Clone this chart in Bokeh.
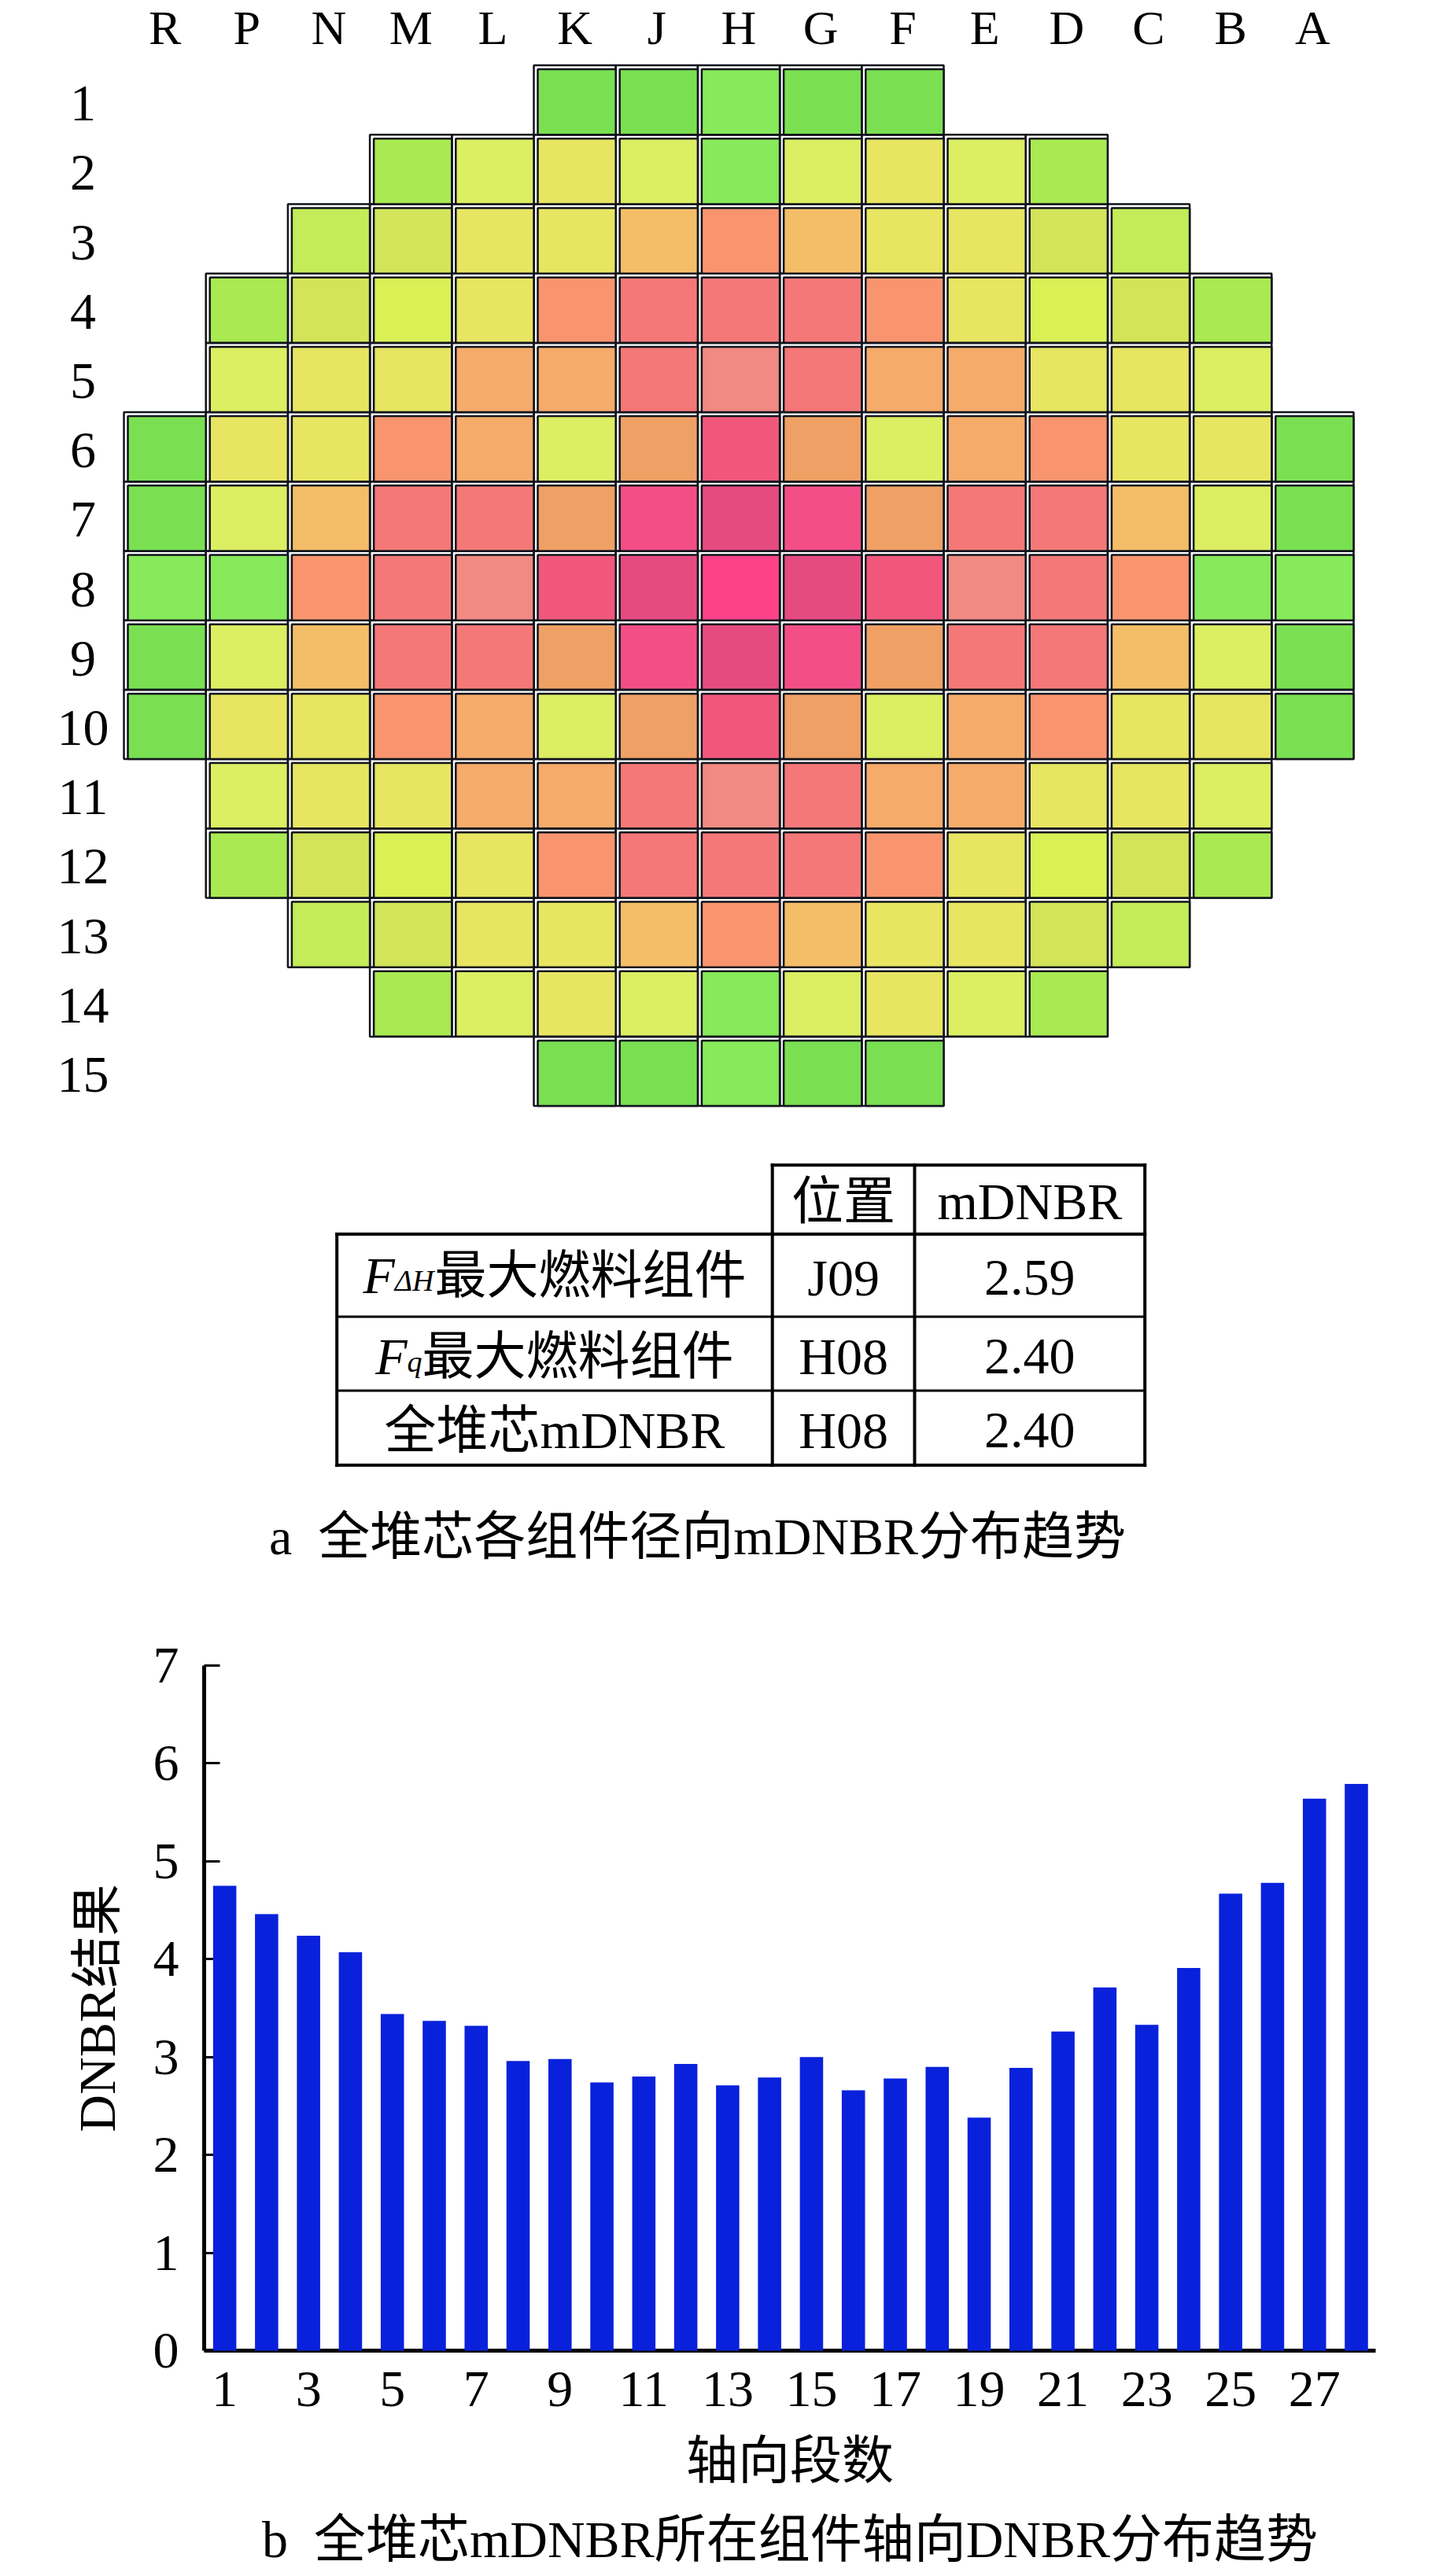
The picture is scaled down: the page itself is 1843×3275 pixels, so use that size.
from bokeh.plotting import figure
from bokeh.models import Range1d, FixedTicker, LinearAxis
from bokeh.embed import file_html
from bokeh.resources import INLINE
from bokeh.core.properties import value

FONT = "Liberation Serif, Noto Sans CJK SC"

# ---------------- data ----------------
col_labels = ["R", "P", "N", "M", "L", "K", "J", "H", "G", "F", "E", "D", "C", "B", "A"]
row_labels = [str(i) for i in range(1, 16)]

# colour class of each fuel assembly (radial mDNBR level), '.' = no assembly
core_map = [
    ".....ggGgg.....",
    "...lpypGpypl...",
    "..voyyasayyov..",
    ".lomysrrrsymol.",
    ".pyyOOrkrOOyyp.",
    "gyysOpdedpOsyyg",
    "gparrdhMhdrrapg",
    "GGsrkeMHMekrsGG",
    "gparrdhMhdrrapg",
    "gyysOpdedpOsyyg",
    ".pyyOOrkrOOyyp.",
    ".lomysrrrsymol.",
    "..voyyasayyov..",
    "...lpypGpypl...",
    ".....ggGgg.....",
]
level_colors = {
    "g": "#7ae052", "G": "#86ea5a", "l": "#a9e951", "v": "#c3ec58",
    "o": "#d3e45a", "m": "#daf156", "p": "#dcee62", "y": "#e8e562",
    "a": "#f4bd67", "O": "#f5ab6a", "d": "#efa065", "s": "#f8956f",
    "k": "#f08a83", "r": "#f57878", "e": "#f1577b", "M": "#e64b80",
    "h": "#f44e87", "H": "#fd4289",
}

table_header = ["位置", "mDNBR"]
table_symbol = ["F", "F", ""]
table_sub = ["ΔH", "q", ""]
table_name = ["最大燃料组件", "最大燃料组件", "全堆芯mDNBR"]
table_pos = ["J09", "H08", "H08"]
table_mdnbr = [2.59, 2.40, 2.40]
caption_a = "a\u2002全堆芯各组件径向mDNBR分布趋势"

segments = list(range(1, 29))
dnbr = [4.75, 4.46, 4.24, 4.07, 3.44, 3.37, 3.32, 2.96, 2.98, 2.74, 2.80, 2.93, 2.71, 2.79,
        3.00, 2.66, 2.78, 2.90, 2.38, 2.89, 3.26, 3.71, 3.33, 3.91, 4.67, 4.78, 5.64, 5.79]
x_ticks = [1, 3, 5, 7, 9, 11, 13, 15, 17, 19, 21, 23, 25, 27]
y_ticks = [0, 1, 2, 3, 4, 5, 6, 7]
x_label = "轴向段数"
y_label = "DNBR结果"
caption_b = "b\u2002全堆芯mDNBR所在组件轴向DNBR分布趋势"

W = 1840
LINE = "#11141c"

# ---------------- figure 1: core map ----------------
GX0, CW, GY0, CH = 157.0, 104.2, 82.6, 88.2
T1, B1 = 0, 1440
p1 = figure(width=W, height=B1 - T1,
            x_range=Range1d((0 - GX0) / CW, (W - GX0) / CW),
            y_range=Range1d((B1 - GY0) / CH, (T1 - GY0) / CH),
            output_backend="svg", toolbar_location=None,
            x_axis_location=None, y_axis_location=None, min_border=0)
p1.grid.visible = False
p1.outline_line_color = None

xs, ys, cs = [], [], []
for r, row in enumerate(core_map):
    for c, ch in enumerate(row):
        if ch != ".":
            xs.append(c + 0.5)
            ys.append(r + 0.5)
            cs.append(level_colors[ch])
p1.rect(x=xs, y=ys, width=1, height=1, fill_color=None, line_color=LINE, line_width=2.5)
p1.rect(x=[v + 0.024 for v in xs], y=[v + 0.028 for v in ys], width=0.952, height=0.943,
        fill_color=cs, line_color=LINE, line_width=2.5)

p1.text(x=[i + 0.5 for i in range(15)], y=[-0.55] * 15, text=col_labels, text_font=value(FONT),
        text_font_size="62px", text_align="center", text_baseline="middle", text_color="black")
p1.text(x=[-0.5] * 15, y=[i + 0.55 for i in range(15)], text=row_labels, text_font=value(FONT),
        text_font_size="66px", text_align="center", text_baseline="middle", text_color="black")

# ---------------- figure 2: table + caption a ----------------
T2, B2 = 1440, 2040
p2 = figure(width=W, height=B2 - T2, x_range=Range1d(0, W), y_range=Range1d(B2, T2),
            output_backend="svg", toolbar_location=None,
            x_axis_location=None, y_axis_location=None, min_border=0)
p2.grid.visible = False
p2.outline_line_color = None

tx = [427.7, 981.2, 1162.0, 1454.7]            # column borders
ty = [1480.7, 1568.4, 1673.6, 1767.6, 1862.3]  # row borders
x0s = [tx[1], tx[0], tx[0], tx[0], tx[1], tx[2], tx[3]]
x1s = [tx[3], tx[3], tx[3], tx[0], tx[1], tx[2], tx[3]]
y0s = [ty[0], ty[1], ty[4], ty[1], ty[0], ty[0], ty[0]]
y1s = [ty[0], ty[1], ty[4], ty[4], ty[4], ty[4], ty[4]]
p2.segment(x0=x0s, y0=y0s, x1=x1s, y1=y1s, line_color="black", line_width=4, line_cap="square")
p2.segment(x0=[tx[0], tx[0]], y0=[ty[2], ty[3]], x1=[tx[3], tx[3]], y1=[ty[2], ty[3]],
           line_color="black", line_width=3)

cx1 = (tx[0] + tx[1]) / 2
cx2 = (tx[1] + tx[2]) / 2
cx3 = (tx[2] + tx[3]) / 2
hy = (ty[0] + ty[1]) / 2 + 2
rows_y = [(ty[i + 1] + ty[i + 2]) / 2 + 3 for i in range(3)]

p2.text(x=[cx2, cx3], y=[hy, hy], text=table_header, text_font=value(FONT),
        text_font_size="66px", text_align="center", text_baseline="middle", text_color="black")
p2.text(x=[cx2] * 3, y=rows_y, text=table_pos, text_font=value(FONT),
        text_font_size="66px", text_align="center", text_baseline="middle", text_color="black")
p2.text(x=[cx3] * 3, y=rows_y, text=["%.2f" % v for v in table_mdnbr], text_font=value(FONT),
        text_font_size="66px", text_align="center", text_baseline="middle", text_color="black")

fs, ss = 66, 38
sub_w = {"ΔH": 1.334 * ss, "q": 0.5 * ss, "": 0}
for i in range(3):
    if table_symbol[i]:
        w_sym = 0.611 * fs
        w_sub = sub_w[table_sub[i]]
        w_name = len(table_name[i]) * fs
        start = cx1 - (w_sym + w_sub + w_name) / 2
        yc = rows_y[i] - (3 if i == 0 else 0)
        p2.text(x=[start], y=[yc], text=[table_symbol[i]], text_font=value(FONT),
                text_font_size="%dpx" % fs, text_font_style="italic", text_align="left",
                text_baseline="middle", text_color="black")
        p2.text(x=[start + w_sym], y=[yc + 0.23 * (fs - ss)], text=[table_sub[i]],
                text_font=value(FONT), text_font_size="%dpx" % ss, text_font_style="italic",
                text_align="left", text_baseline="middle", text_color="black")
        p2.text(x=[start + w_sym + w_sub], y=[yc], text=[table_name[i]], text_font=value(FONT),
                text_font_size="%dpx" % fs, text_align="left",
                text_baseline="middle", text_color="black")
    else:
        p2.text(x=[cx1], y=[rows_y[i]], text=[table_name[i]], text_font=value(FONT),
                text_font_size="%dpx" % fs, text_align="center", text_baseline="middle",
                text_color="black")

p2.text(x=[886], y=[1953], text=[caption_a], text_font=value(FONT), text_font_size="66px",
        text_align="center", text_baseline="middle", text_color="black")

# ---------------- figure 3: axial DNBR bar chart ----------------
T3, B3 = 2040, 3272
p3 = figure(width=W, height=B3 - T3, x_range=Range1d(0.51, 28.46), y_range=Range1d(0, 7),
            output_backend="svg", toolbar_location=None,
            min_border_left=259, min_border_right=W - 1748, min_border_top=77,
            min_border_bottom=B3 - 2988)
p3.grid.visible = False
p3.outline_line_color = None
bars = p3.vbar(x=segments, top=dnbr, width=0.555, fill_color="#0921db", line_color=None)
bars.level = "annotation"

p3.xaxis.ticker = FixedTicker(ticks=x_ticks)
p3.yaxis.ticker = FixedTicker(ticks=y_ticks)
for ax in (p3.xaxis, p3.yaxis):
    ax.axis_line_width = 5
    ax.axis_line_color = "black"
    ax.minor_tick_line_color = None
    ax.major_label_text_font = FONT
    ax.major_label_text_font_size = "66px"
    ax.major_label_text_color = "black"
    ax.axis_label_text_font = FONT
    ax.axis_label_text_font_size = "66px"
    ax.axis_label_text_font_style = "normal"
    ax.axis_label_text_color = "black"
p3.xaxis.major_tick_in = 0
p3.xaxis.major_tick_out = 0
p3.xaxis.major_label_standoff = 27
p3.xaxis.axis_label = x_label
p3.xaxis.axis_label_standoff = 30
p3.yaxis.major_tick_in = 20
p3.yaxis.major_tick_out = 0
p3.yaxis.major_tick_line_width = 3
p3.yaxis.major_tick_line_color = "black"
p3.yaxis.major_label_standoff = 32
p3.yaxis.axis_label = y_label
p3.yaxis.axis_label_standoff = 32

cap_axis = LinearAxis(ticker=FixedTicker(ticks=[]), axis_line_color=None,
                      major_tick_line_color=None, minor_tick_line_color=None,
                      major_tick_in=0, major_tick_out=0, major_label_standoff=0,
                      axis_label=caption_b, axis_label_standoff=24,
                      axis_label_text_font=FONT, axis_label_text_font_size="66px",
                      axis_label_text_font_style="normal", axis_label_text_color="black")
p3.add_layout(cap_axis, "below")

open("out.html", "w").write(file_html([p1, p2, p3], INLINE))
